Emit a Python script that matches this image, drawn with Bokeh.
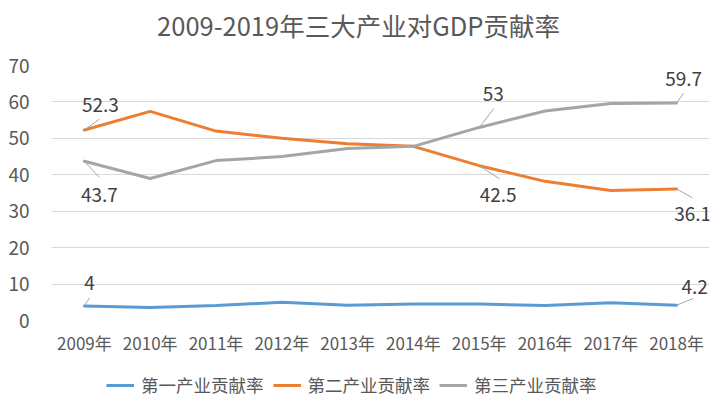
import math
from bokeh.plotting import figure
from bokeh.layouts import column
from bokeh.models import FixedTicker, Legend, LegendItem, ColumnDataSource
from bokeh.embed import file_html
from bokeh.resources import INLINE
from bokeh.core.properties import value

# ---- data ----
years = ["2009年", "2010年", "2011年", "2012年", "2013年",
         "2014年", "2015年", "2016年", "2017年", "2018年"]
primary = [4.0, 3.6, 4.1, 5.0, 4.2, 4.5, 4.5, 4.1, 4.9, 4.2]
secondary = [52.3, 57.4, 52.0, 50.0, 48.5, 47.8, 42.5, 38.2, 35.7, 36.1]
tertiary = [43.7, 39.0, 43.9, 45.0, 47.2, 47.8, 53.0, 57.5, 59.6, 59.7]
series_names = ["第一产业贡献率", "第二产业贡献率", "第三产业贡献率"]
y_ticks = [0, 10, 20, 30, 40, 50, 60, 70]
title_text = "2009-2019年三大产业对GDP贡献率"

# labelled points: (series index, point index)
labelled = [(1, 0), (2, 0), (0, 0), (2, 6), (1, 6), (2, 9), (1, 9), (0, 9)]

# ---- styles ----
FONT = "Noto Sans CJK SC"
colors = ["#5B9BD5", "#ED7D31", "#A5A5A5"]
# label placement (screen px offsets of label centre from the point; leader length/angle)
label_dx = [16, 15, 5, 14, 19, 7, 16, 18]
label_dy = [-25, 34, -23, -33, 29, -24, 25, -18]
leader_len = [18.6, 22, 9.4, 24, 24, 12, 18, 18]
leader_deg = [36, -47, 58, 52, -33, 55, -29, 22]

W = 720
LEFT, RIGHT = 51, 11
series = [primary, secondary, tertiary]
xs = [i + 0.5 for i in range(len(years))]


def strip(height):
    # frame spans the same horizontal extent as the main chart; x in page pixels
    f = figure(width=W, height=height, x_range=(LEFT, W - RIGHT), y_range=(0, height),
               output_backend="svg", toolbar_location=None, min_border=0,
               min_border_left=LEFT, min_border_right=RIGHT,
               x_axis_location=None, y_axis_location=None)
    f.grid.grid_line_color = None
    f.outline_line_color = None
    return f


# ---- title strip ----
tp = strip(50)
tp.text(x=[358], y=[26], text=[title_text], text_font=value(FONT), text_font_size="25.5px",
        text_color="#595959", text_align="center", text_baseline="middle")

# ---- main chart ----
p = figure(width=W, height=310, x_range=(0, len(years)), y_range=(y_ticks[0], y_ticks[-1]),
           output_backend="svg", toolbar_location=None,
           min_border_left=LEFT, min_border_right=RIGHT, min_border_top=15, min_border_bottom=40)

p.outline_line_color = None
p.xgrid.grid_line_color = None
p.ygrid.grid_line_color = "#D9D9D9"
p.ygrid.grid_line_width = 1

p.yaxis.ticker = FixedTicker(ticks=y_ticks)
p.xaxis.ticker = FixedTicker(ticks=xs)
p.xaxis.major_label_overrides = {x: lab for x, lab in zip(xs, years)}
for ax in (p.xaxis, p.yaxis):
    ax.axis_line_color = None
    ax.major_tick_line_color = None
    ax.minor_tick_line_color = None
    ax.major_label_text_font = FONT
    ax.major_label_text_color = "#595959"
p.xaxis.major_label_text_font_size = "17px"
p.yaxis.major_label_text_font_size = "19px"
p.xaxis.major_label_standoff = 3
p.yaxis.major_label_standoff = 16

renderers = []
for vals, c in zip(series, colors):
    r = p.line(xs, vals, line_color=c, line_width=3, line_join="round", line_cap="round")
    renderers.append(r)

# data labels & leaders
lx = [xs[j] for (s, j) in labelled]
ly = [series[s][j] for (s, j) in labelled]
ltext = [("%g" % series[s][j]) for (s, j) in labelled]
p.ray(x=lx, y=ly, length=leader_len, length_units="screen",
      angle=[math.radians(a) for a in leader_deg],
      line_color="#A6A6A6", line_width=1)
src = ColumnDataSource(dict(x=lx, y=ly, t=ltext, dx=label_dx, dy=label_dy))
p.text(x="x", y="y", text="t", x_offset="dx", y_offset="dy", source=src,
       text_font=value(FONT), text_font_size="19px", text_color="#404040",
       text_align="center", text_baseline="middle")

# ---- legend strip ----
lg = strip(46)
lg_renderers = [lg.line(x=[-20, -10], y=[-20, -10], line_color=c, line_width=3) for c in colors]
legend = Legend(items=[LegendItem(label=n, renderers=[r]) for n, r in zip(series_names, lg_renderers)],
                orientation="horizontal", location=(55, 9),
                label_text_font=FONT, label_text_font_size="17.5px", label_text_color="#595959",
                glyph_width=28, glyph_height=20, label_height=20, label_standoff=7, spacing=9,
                padding=4, margin=0, border_line_color=None, background_fill_alpha=0)
lg.add_layout(legend, "center")

layout = column(tp, p, lg, spacing=0)
open("out.html", "w").write(file_html(layout, INLINE))
